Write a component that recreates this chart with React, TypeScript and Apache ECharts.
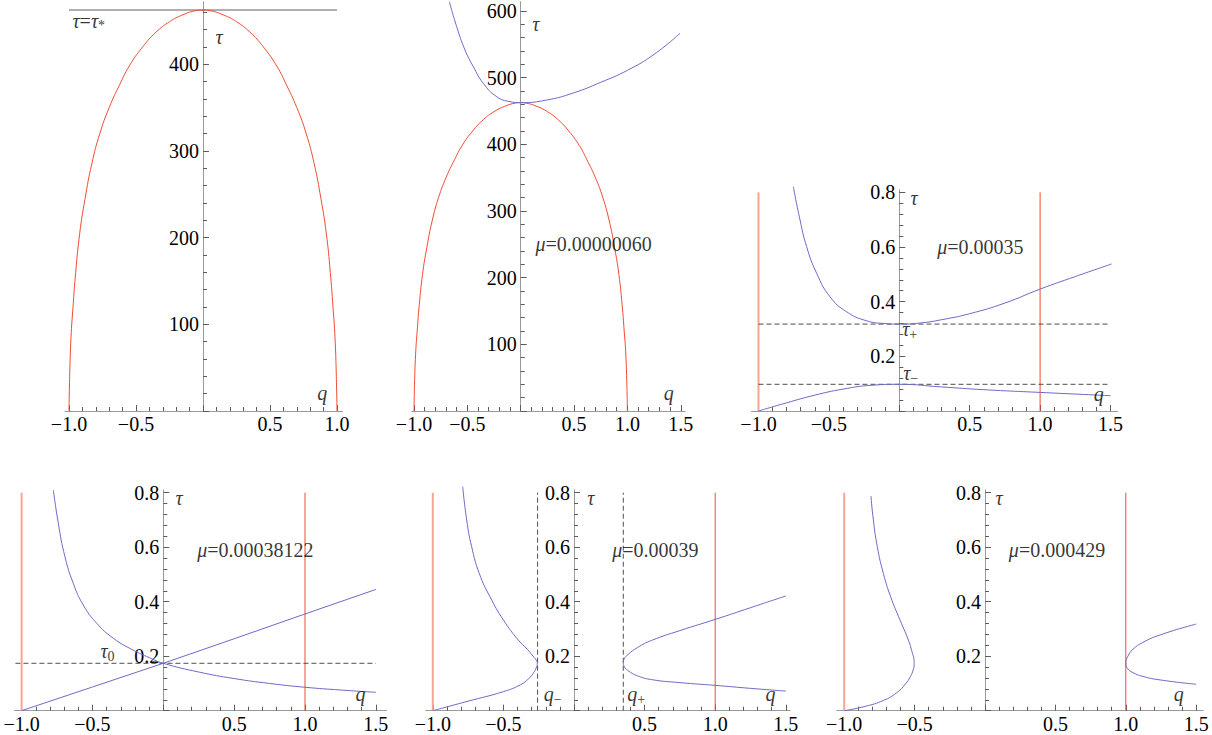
import React, { useEffect, useRef } from "react";
import * as echarts from "echarts";

type Pt = [number, number];

// ---------------- data (q, τ) ----------------
// red boundary curve τ = τ*(q) (panels 1 and 2)
const tauStarCurve: Pt[] = [
  [-1, 0], [-0.995, 40], [-0.985, 85], [-0.97, 120], [-0.95, 160], [-0.92, 205],
  [-0.88, 245], [-0.83, 285], [-0.77, 320], [-0.7, 350], [-0.62, 377], [-0.55, 398],
  [-0.45, 420], [-0.35, 437], [-0.25, 449], [-0.15, 457], [-0.05, 461.8], [0, 462.5],
  [0.05, 461.8], [0.15, 457], [0.25, 449], [0.35, 437], [0.45, 420], [0.55, 398],
  [0.62, 377], [0.7, 350], [0.77, 320], [0.83, 285], [0.88, 245], [0.92, 205],
  [0.95, 160], [0.97, 120], [0.985, 85], [0.995, 40], [1, 0],
];
const tauStarLevel: Pt[] = [[-1, 462.5], [1, 462.5]];

// panel 2 (μ = 0.00000060)
const p2Upper: Pt[] = [
  [-0.669, 614], [-0.6, 576.5], [-0.522, 541.5], [-0.444, 516.5], [-0.35, 491.5],
  [-0.225, 471.5], [-0.1, 464], [0, 462.5], [0.244, 466.5], [0.493, 477],
  [0.75, 493], [1.0, 511], [1.25, 535], [1.493, 566.5],
];

// panel 3 (μ = 0.00035)
const p3Upper: Pt[] = [
  [-0.753, 0.821], [-0.705, 0.699], [-0.658, 0.601], [-0.587, 0.504], [-0.492, 0.418],
  [-0.374, 0.363], [-0.232, 0.33], [-0.1, 0.32], [0, 0.318], [0.15, 0.322], [0.3, 0.334],
  [0.5, 0.356], [0.75, 0.395], [1.0, 0.446], [1.25, 0.492], [1.508, 0.538],
];
const p3Lower: Pt[] = [
  [-1, 0], [-0.8, 0.03], [-0.6, 0.058], [-0.4, 0.08], [-0.2, 0.094], [0, 0.0977],
  [0.3, 0.088], [0.6, 0.078], [1, 0.068], [1.5, 0.056],
];
const p3TauPlus: Pt[] = [[-1, 0.318], [1.5, 0.318]];
const p3TauMinus: Pt[] = [[-1, 0.0977], [1.5, 0.0977]];

// panel 4 (μ = 0.00038122)
const p4CurveA: Pt[] = [
  [-0.776, 0.81], [-0.741, 0.688], [-0.694, 0.565], [-0.635, 0.467], [-0.565, 0.388],
  [-0.47, 0.321], [-0.353, 0.266], [-0.212, 0.222], [-0.1, 0.195], [0, 0.174],
  [0.25, 0.142], [0.5, 0.118], [0.75, 0.1], [1, 0.086], [1.25, 0.076], [1.5, 0.0675],
];
const p4LineB: Pt[] = [
  [-1, 0], [-0.5, 0.087], [0, 0.174], [0.5, 0.264], [1, 0.355], [1.5, 0.445],
];
const p4TauZero: Pt[] = [[-1.1, 0.174], [1.5, 0.174]];

// panel 5 (μ = 0.00039)
const p5Left: Pt[] = [
  [-0.788, 0.822], [-0.76, 0.7], [-0.725, 0.602], [-0.671, 0.504], [-0.595, 0.418],
  [-0.5, 0.333], [-0.394, 0.259], [-0.33, 0.225], [-0.29, 0.2], [-0.267, 0.185],
  [-0.26, 0.174], [-0.268, 0.157], [-0.285, 0.14], [-0.32, 0.118], [-0.38, 0.095],
  [-0.5, 0.07], [-0.75, 0.035], [-1, 0],
];
const p5Right: Pt[] = [
  [1.5, 0.421], [1.25, 0.378], [1.0, 0.335], [0.75, 0.294], [0.55, 0.258],
  [0.45, 0.232], [0.38, 0.205], [0.355, 0.19], [0.349, 0.176], [0.356, 0.162],
  [0.38, 0.148], [0.45, 0.128], [0.55, 0.114], [0.75, 0.103], [1.0, 0.093],
  [1.25, 0.082], [1.5, 0.072],
];
const p5QMinus: Pt[] = [[-0.258, 0], [-0.258, 0.8]];
const p5QPlus: Pt[] = [[0.349, 0], [0.349, 0.8]];

// panel 6 (μ = 0.000429)
const p6Left: Pt[] = [
  [-0.81, 0.788], [-0.793, 0.7], [-0.765, 0.602], [-0.722, 0.504], [-0.67, 0.418],
  [-0.604, 0.333], [-0.544, 0.259], [-0.515, 0.21], [-0.504, 0.185], [-0.503, 0.17],
  [-0.51, 0.15], [-0.53, 0.125], [-0.565, 0.098], [-0.627, 0.066], [-0.72, 0.038],
  [-0.85, 0.016], [-1, 0],
];
const p6Right: Pt[] = [
  [1.5, 0.318], [1.243, 0.278], [1.12, 0.25], [1.05, 0.225], [1.015, 0.2], [1.0, 0.174],
  [1.012, 0.155], [1.05, 0.14], [1.12, 0.126], [1.243, 0.113], [1.5, 0.097],
];

// red boundaries q = ±1 (panels 3–6)
const boundLeft: Pt[] = [[-1, 0], [-1, 0.8]];
const boundRight: Pt[] = [[1, 0], [1, 0.8]];

// tick labels
const xTicksNarrow = [-1, -0.5, 0.5, 1];
const xLabelsNarrow = ["−1.0", "−0.5", "0.5", "1.0"];
const xTicksWide = [-1, -0.5, 0.5, 1, 1.5];
const xLabelsWide = ["−1.0", "−0.5", "0.5", "1.0", "1.5"];
const yTicksP1 = [100, 200, 300, 400];
const yLabelsP1 = ["100", "200", "300", "400"];
const yTicksP2 = [100, 200, 300, 400, 500, 600];
const yLabelsP2 = ["100", "200", "300", "400", "500", "600"];
const yTicksSmall = [0.2, 0.4, 0.6, 0.8];
const yLabelsSmall = ["0.2", "0.4", "0.6", "0.8"];

// annotation texts (rich markup) anchored at data coordinates (left edge, middle)
type Note = { at: Pt; text: string };
const notesP1: Note[] = [
  { at: [-0.978, 450], text: "{i|τ}{n|=}{i|τ}{s|*}" },
  { at: [0.09, 431], text: "{i|τ}" },
  { at: [0.849, 21], text: "{i|q}" },
];
const notesP2: Note[] = [
  { at: [0.103, 581], text: "{i|τ}" },
  { at: [0.134, 250], text: "{i|μ}{n|=0.00000060}" },
  { at: [1.337, 27], text: "{i|q}" },
];
const notesP3: Note[] = [
  { at: [0.076, 0.78], text: "{i|τ}" },
  { at: [0.266, 0.599], text: "{i|μ}{n|=0.00035}" },
  { at: [0.017, 0.3], text: "{i|τ}{s|+}" },
  { at: [0.024, 0.139], text: "{i|τ}{s|−}" },
  { at: [1.378, 0.062], text: "{i|q}" },
];
const notesP4: Note[] = [
  { at: [-0.447, 0.219], text: "{i|τ}{s|0}" },
  { at: [0.083, 0.781], text: "{i|τ}" },
  { at: [0.236, 0.59], text: "{i|μ}{n|=0.00038122}" },
  { at: [1.353, 0.061], text: "{i|q}" },
];
const notesP5: Note[] = [
  { at: [0.09, 0.781], text: "{i|τ}" },
  { at: [0.267, 0.59], text: "{i|μ}{n|=0.00039}" },
  { at: [-0.217, 0.061], text: "{i|q}{s|−}" },
  { at: [0.373, 0.061], text: "{i|q}{s|+}" },
  { at: [1.353, 0.061], text: "{i|q}" },
];
const notesP6: Note[] = [
  { at: [0.071, 0.781], text: "{i|τ}" },
  { at: [0.166, 0.59], text: "{i|μ}{n|=0.000429}" },
  { at: [1.337, 0.061], text: "{i|q}" },
];

// ---------------- styling / layout ----------------
const FONT = "Liberation Serif";
const AXIS = "#9a9a9a";
const TICK = "#5c5c5c";
const RED = "#f24b32";
const RED_SOFT = "#f6a596";
const BLUE = "#6b6bc6";
const DASH = "#4d4d4d";
const FS = 20;

const RICH = {
  i: { fontFamily: FONT, fontStyle: "italic", fontSize: FS, lineHeight: 24, color: "#000" },
  n: { fontFamily: FONT, fontSize: FS, lineHeight: 24, color: "#000" },
  s: { fontFamily: FONT, fontSize: 14, lineHeight: 12, verticalAlign: "bottom", color: "#000" },
};

interface Panel {
  x0: number; sx: number; y0: number; sy: number;        // pixel origin and scale
  xMin: number; xMax: number; yMax: number;              // visible axis extents
  xTickMax: number; yTickMax: number; yInterval: number; // tick frame (multiples of interval)
  xTicks: number[]; xLabels: string[];
  yTicks: number[]; yLabels: string[];
}

const panels: Panel[] = [
  { x0: 203, sx: 134, y0: 411, sy: 0.867, xMin: -1.03, xMax: 1.04, yMax: 472,
    xTickMax: 1, yTickMax: 500, yInterval: 100,
    xTicks: xTicksNarrow, xLabels: xLabelsNarrow, yTicks: yTicksP1, yLabels: yLabelsP1 },
  { x0: 520.7, sx: 106.7, y0: 411, sy: 0.6667, xMin: -1.02, xMax: 1.54, yMax: 614,
    xTickMax: 1.5, yTickMax: 600, yInterval: 100,
    xTicks: xTicksWide, xLabels: xLabelsWide, yTicks: yTicksP2, yLabels: yLabelsP2 },
  { x0: 899.3, sx: 140.8, y0: 411, sy: 273.3, xMin: -1.05, xMax: 1.55, yMax: 0.81,
    xTickMax: 1.5, yTickMax: 0.8, yInterval: 0.2,
    xTicks: xTicksWide, xLabels: xLabelsWide, yTicks: yTicksSmall, yLabels: yLabelsSmall },
  { x0: 163.3, sx: 141.7, y0: 710.7, sy: 272.5, xMin: -1.05, xMax: 1.575, yMax: 0.81,
    xTickMax: 1.5, yTickMax: 0.8, yInterval: 0.2,
    xTicks: xTicksWide, xLabels: xLabelsWide, yTicks: yTicksSmall, yLabels: yLabelsSmall },
  { x0: 574, sx: 141.2, y0: 710.7, sy: 272.5, xMin: -1.05, xMax: 1.53, yMax: 0.81,
    xTickMax: 1.5, yTickMax: 0.8, yInterval: 0.2,
    xTicks: xTicksWide, xLabels: xLabelsWide, yTicks: yTicksSmall, yLabels: yLabelsSmall },
  { x0: 985, sx: 140.8, y0: 710.7, sy: 272.5, xMin: -1.053, xMax: 1.55, yMax: 0.81,
    xTickMax: 1.5, yTickMax: 0.8, yInterval: 0.2,
    xTicks: xTicksWide, xLabels: xLabelsWide, yTicks: yTicksSmall, yLabels: yLabelsSmall },
];

function lookup(ticks: number[], labels: string[]) {
  return (v: number) => {
    const k = ticks.findIndex((t) => Math.abs(t - v) < 1e-6);
    return k >= 0 ? labels[k] : "";
  };
}

function buildOption() {
  const grid: any[] = [];
  const xAxis: any[] = [];
  const yAxis: any[] = [];
  const labelStyle = { color: "#000", fontFamily: FONT, fontSize: FS };
  const noSplit = { splitLine: { show: false }, minorSplitLine: { show: false } };
  const majorTick = { show: true, inside: true, length: 6, lineStyle: { color: TICK, width: 1 } };
  const minorTick = { show: true, splitNumber: 5, length: 4, lineStyle: { color: TICK, width: 1 } };

  panels.forEach((p, i) => {
    // main frame: visible extents, carries the axis lines and the series
    grid.push({
      left: p.x0 + p.xMin * p.sx, top: p.y0 - p.yMax * p.sy,
      width: (p.xMax - p.xMin) * p.sx, height: p.yMax * p.sy,
      containLabel: false, outerBoundsMode: "none",
    });
    // tick frame: same scale, extents that are multiples of the tick interval
    grid.push({
      left: p.x0 - p.sx, top: p.y0 - p.yTickMax * p.sy,
      width: (p.xTickMax + 1) * p.sx, height: p.yTickMax * p.sy,
      containLabel: false, outerBoundsMode: "none",
    });
    const gMain = 2 * i;
    const gTick = 2 * i + 1;

    xAxis.push({
      type: "value", gridIndex: gMain, min: p.xMin, max: p.xMax, position: "bottom",
      axisLine: { show: true, onZero: false, lineStyle: { color: AXIS, width: 1 } },
      axisTick: { show: false }, axisLabel: { show: false }, minorTick: { show: false }, ...noSplit,
    });
    yAxis.push({
      type: "value", gridIndex: gMain, min: 0, max: p.yMax, position: "left",
      offset: p.xMin * p.sx, // negative offset puts the axis on q = 0
      axisLine: { show: true, onZero: false, lineStyle: { color: AXIS, width: 1 } },
      axisTick: { show: false }, axisLabel: { show: false }, minorTick: { show: false }, ...noSplit,
    });

    xAxis.push({
      type: "value", gridIndex: gTick, min: -1, max: p.xTickMax, interval: 0.5, position: "bottom",
      axisLine: { show: false, onZero: false },
      axisTick: majorTick, minorTick,
      axisLabel: { show: true, formatter: lookup(p.xTicks, p.xLabels), margin: 3, showMinLabel: true, showMaxLabel: true, ...labelStyle },
      ...noSplit,
    });
    yAxis.push({
      type: "value", gridIndex: gTick, min: 0, max: p.yTickMax, interval: p.yInterval, position: "left",
      offset: -p.sx,
      axisLine: { show: false, onZero: false },
      axisTick: majorTick, minorTick,
      axisLabel: { show: true, formatter: lookup(p.yTicks, p.yLabels), margin: 4, showMinLabel: true, showMaxLabel: true, ...labelStyle },
      ...noSplit,
    });
  });

  const series: any[] = [];
  const line = (i: number, data: Pt[], color: string, width = 1, dashed = false, smooth: number | boolean = 0.5) => {
    series.push({
      type: "line", xAxisIndex: 2 * i, yAxisIndex: 2 * i, data,
      showSymbol: false, symbol: "none", smooth, clip: false, silent: true,
      lineStyle: { color, width, type: dashed ? [5, 3] : "solid" },
      z: 3,
    });
  };
  const notes = (i: number, list: Note[]) => {
    series.push({
      type: "scatter", xAxisIndex: 2 * i, yAxisIndex: 2 * i, symbolSize: 1, silent: true,
      itemStyle: { color: "rgba(0,0,0,0)" },
      data: list.map((n) => ({ value: n.at, name: n.text })),
      label: { show: true, position: "right", distance: 0, color: "#000", fontFamily: FONT, formatter: (pa: any) => pa.name, rich: RICH },
      z: 10,
    });
  };

  // panel 1
  line(0, tauStarLevel, "#5e5e5e", 1, false, false);
  line(0, tauStarCurve, RED);
  notes(0, notesP1);
  // panel 2
  line(1, tauStarCurve, RED);
  line(1, p2Upper, BLUE);
  notes(1, notesP2);
  // panel 3
  line(2, boundLeft, RED_SOFT, 2, false, false);
  line(2, boundRight, RED, 1, false, false);
  line(2, p3TauPlus, DASH, 1, true, false);
  line(2, p3TauMinus, DASH, 1, true, false);
  line(2, p3Upper, BLUE);
  line(2, p3Lower, BLUE);
  notes(2, notesP3);
  // panel 4
  line(3, boundLeft, RED_SOFT, 2, false, false);
  line(3, boundRight, RED, 1, false, false);
  line(3, p4TauZero, DASH, 1, true, false);
  line(3, p4CurveA, BLUE);
  line(3, p4LineB, BLUE, 1, false, false);
  notes(3, notesP4);
  // panel 5
  line(4, boundLeft, RED_SOFT, 2, false, false);
  line(4, boundRight, RED, 1, false, false);
  line(4, p5QMinus, DASH, 1, true, false);
  line(4, p5QPlus, DASH, 1, true, false);
  line(4, p5Left, BLUE);
  line(4, p5Right, BLUE);
  notes(4, notesP5);
  // panel 6
  line(5, boundLeft, RED_SOFT, 2, false, false);
  line(5, boundRight, RED, 1, false, false);
  line(5, p6Left, BLUE);
  line(5, p6Right, BLUE);
  notes(5, notesP6);

  return {
    animation: false,
    backgroundColor: "#ffffff",
    textStyle: { fontFamily: FONT },
    grid, xAxis, yAxis, series,
  };
}

export default function App() {
  const ref = useRef<HTMLDivElement>(null);
  useEffect(() => {
    if (!ref.current) return;
    const chart = echarts.init(ref.current, undefined, { renderer: "svg" });
    chart.setOption(buildOption() as any);
    return () => chart.dispose();
  }, []);
  return (
    <div
      ref={ref}
      style={{ position: "fixed", left: 0, top: 0, width: 1212, height: 735, background: "#fff" }}
    />
  );
}
